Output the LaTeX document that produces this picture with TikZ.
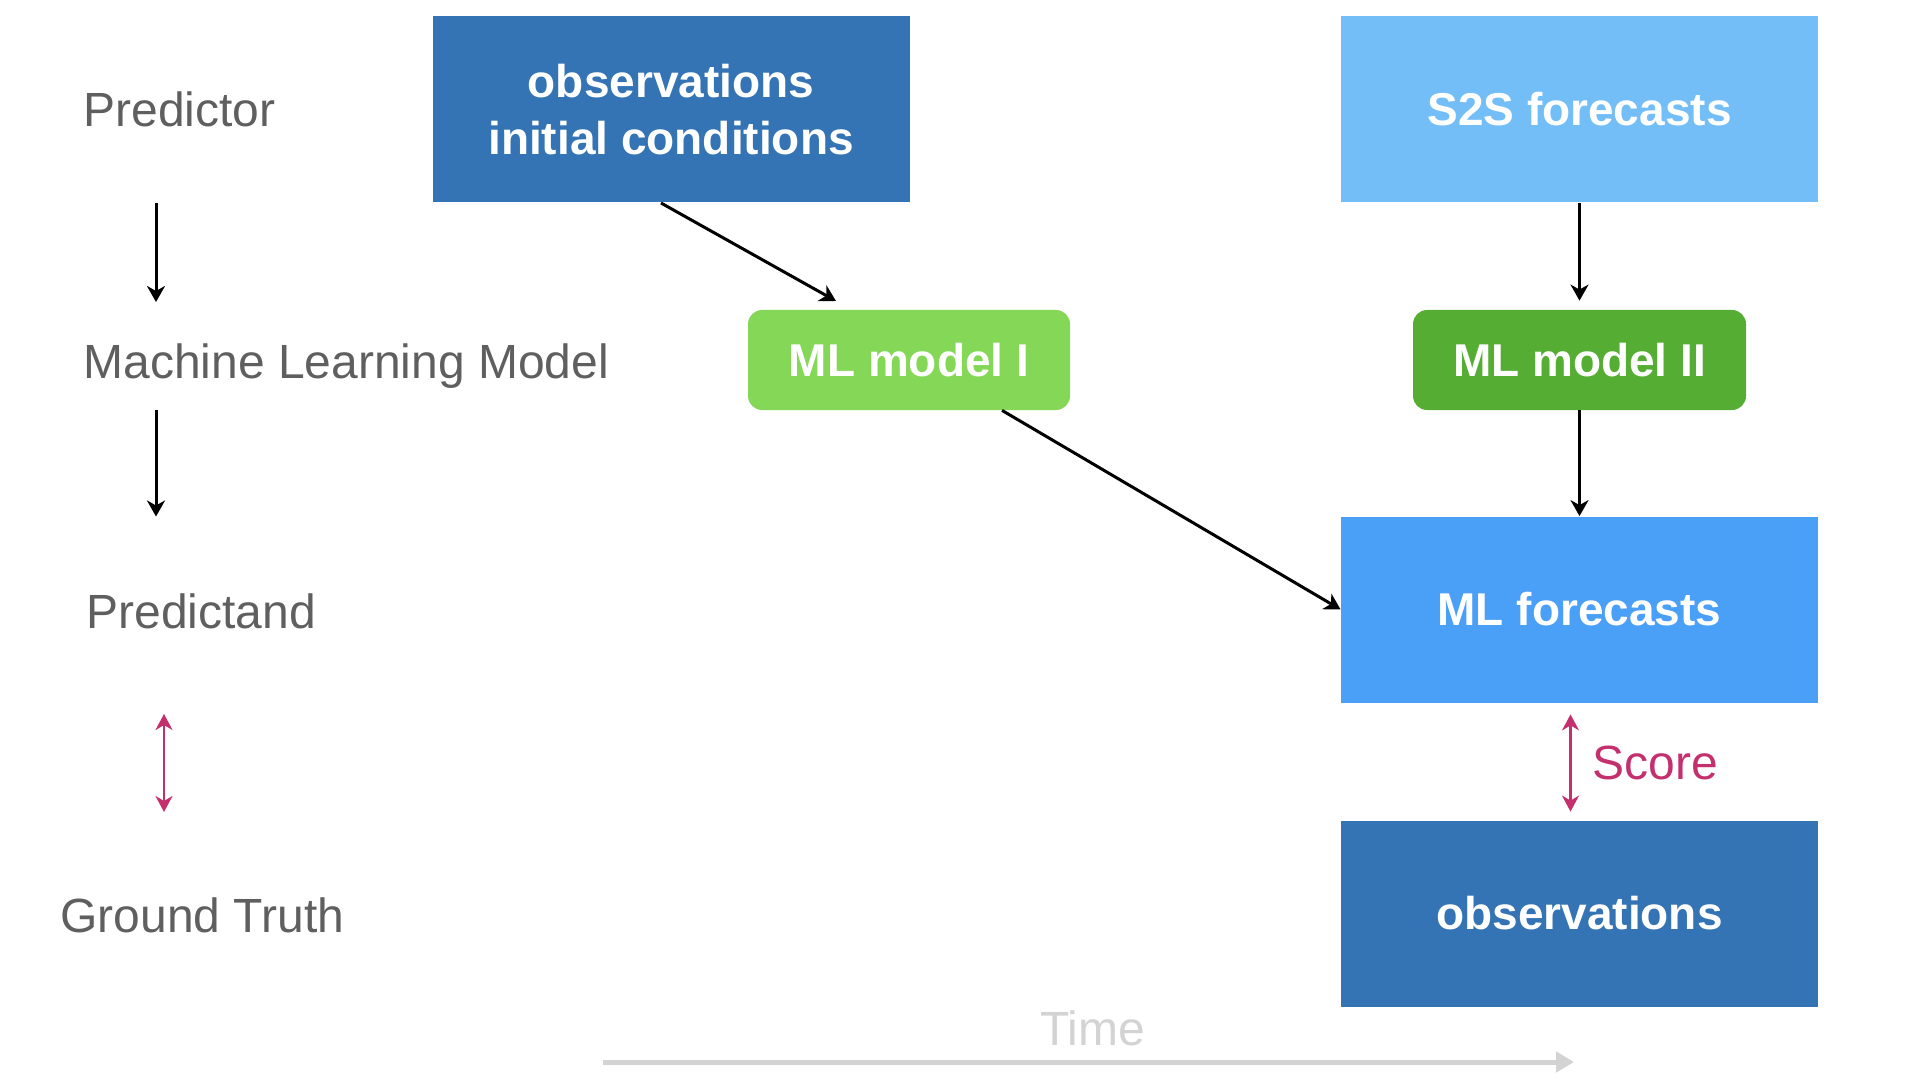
\documentclass[tikz,border=0pt]{standalone}
\usepackage{fontspec}
\setmainfont{Liberation Sans}
\usepackage{tikz}
\usetikzlibrary{arrows.meta,positioning,calc}
\definecolor{obsblue}{HTML}{3474B5}
\definecolor{skyblue}{HTML}{74BEF8}
\definecolor{fcblue}{HTML}{4A9FF7}
\definecolor{lightgreen}{HTML}{85D757}
\definecolor{darkgreen}{HTML}{55AE33}
\definecolor{scorecolor}{HTML}{C42F6E}
\definecolor{labelgray}{HTML}{5F5F5F}
\definecolor{timegray}{HTML}{D3D3D3}

\begin{document}
\begin{tikzpicture}[x=0.5pt,y=-0.5pt,
  box/.style={rectangle,inner sep=0pt,minimum width=238.5pt,minimum height=93pt,
    text=white,align=center,font=\fontsize{23}{28.5}\selectfont\bfseries},
  mlbox/.style={box,rounded corners=7pt,minimum height=50pt},
  lab/.style={anchor=base west,inner sep=0pt,text=labelgray,font=\fontsize{24}{29}\selectfont},
  arr/.style={-{Stealth[length=8pt,width=9pt,inset=2.5pt]},line width=1.5pt},
  scorearr/.style={{Stealth[length=8pt,width=8.5pt,inset=2.5pt]}-{Stealth[length=8pt,width=8.5pt,inset=2.5pt]},
    line width=1.25pt,scorecolor},
  timearr/.style={-{Triangle[length=9pt,width=10pt]},line width=2.5pt,timegray}]
  \useasboundingbox (0,0) rectangle (1920,1080);
  % left column
  \node[lab] (pred) at (83,127) {Predictor};
  \node[lab] (mlm) at (83,379) {Machine Learning Model};
  \node[lab] (pand) at (86,628) {Predictand};
  \node[lab] (truth) at (60,932) {Ground Truth};
  \coordinate (l1) at (156,203); \coordinate (l2) at (156,302);
  \coordinate (l3) at (156,410); \coordinate (l4) at (156,516.5);
  \coordinate (l5) at (164,714); \coordinate (l6) at (164,812);
  \draw[arr] (l1) -- (l2);
  \draw[arr] (l3) -- (l4);
  \draw[scorearr] (l5) -- (l6);
  % boxes
  \node[box,fill=obsblue] (init) at (671,109.5) {observations\\initial conditions};
  \node[box,fill=skyblue] (s2s) at (1579.5,109.5) {S2S forecasts};
  \node[mlbox,fill=lightgreen,minimum width=161pt] (mlone) at (909,360) {ML model I};
  \node[mlbox,fill=darkgreen,minimum width=166.5pt] (mltwo) at (1579.5,360) {ML model II};
  \node[box,fill=fcblue] (mlfc) at (1579.5,609.5) {ML forecasts};
  \node[box,fill=obsblue] (obs) at (1579.5,913.5) {observations};
  % connectors
  \coordinate (d1) at (661,203); \coordinate (d2) at (836,301);
  \draw[arr] (d1) -- (d2);
  \draw[arr] ($(mlone.south)+(93,0)$) -- (mlfc.west);
  \draw[arr,shorten >=4.5pt] (s2s.south) -- (mltwo.north);
  \draw[arr] (mltwo.south) -- (mlfc.north);
  \draw[scorearr] ($(mlfc.south)+(-9,11.5)$) -- ($(obs.north)+(-9,-8.5)$);
  \node[lab,text=scorecolor] (score) at (1592,779) {Score};
  % time axis
  \node[lab,text=timegray] (time) at (1040,1045.5) {Time};
  \coordinate (t0) at (603,1062); \coordinate (t1) at (1574,1062);
  \draw[timearr] (t0) -- (t1);
\end{tikzpicture}
\end{document}
